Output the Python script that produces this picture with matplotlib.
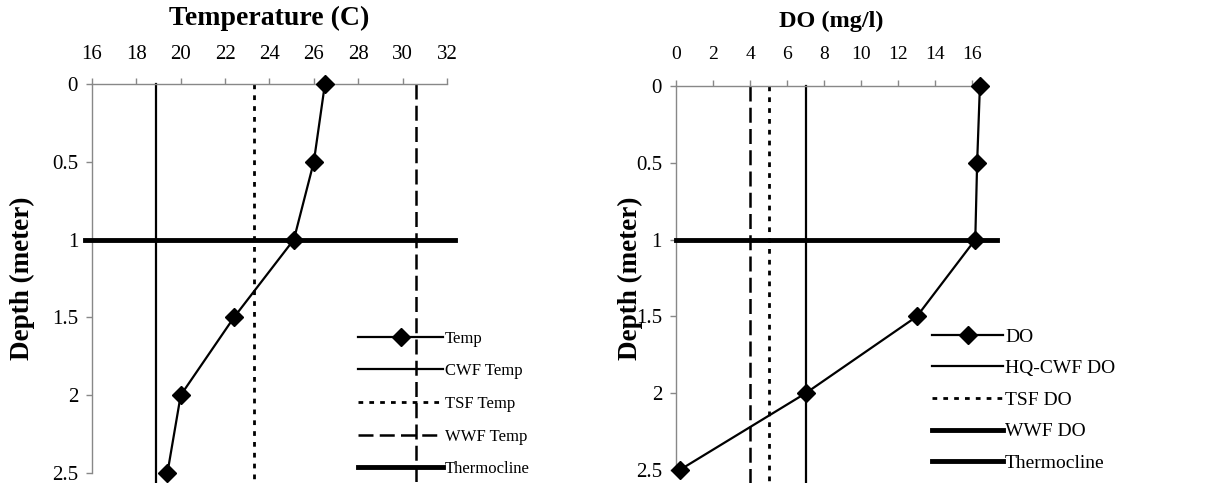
import matplotlib
matplotlib.use('Agg')
from matplotlib import pyplot as plt
from matplotlib.lines import Line2D

plt.rcParams['font.family'] = ['Liberation Serif', 'DejaVu Serif']

depth = [0, 0.5, 1, 1.5, 2, 2.5]
temp = [26.5, 26.0, 25.1, 22.4, 20.0, 19.4]
do = [16.4, 16.25, 16.15, 13.0, 7.0, 0.2]

cwf_temp = 18.9
tsf_temp = 23.3
wwf_temp = 30.6
hq_cwf_do = 7
tsf_do = 5
wwf_do = 4
thermocline = 1

temp_ticks = [16, 18, 20, 22, 24, 26, 28, 30, 32]
do_ticks = [0, 2, 4, 6, 8, 10, 12, 14, 16]
depth_ticks = [0, 0.5, 1, 1.5, 2, 2.5]
depth_labels = ['0', '0.5', '1', '1.5', '2', '2.5']

fig = plt.figure(figsize=(12.07, 4.83), dpi=100)
ax1 = fig.add_axes([0.0762, 0.0207, 0.2941, 0.8054])
ax2 = fig.add_axes([0.560, 0.0269, 0.258, 0.795])

dot = (0, (1.7, 2.2))
dash = (0, (6, 2.5))


def style(ax, xlabel, ticks, xlim, tsize, xtsize, ytsize, ylab_x, title_pad, xpad):
    ax.set_xlim(*xlim)
    ax.set_ylim(2.5, 0)
    ax.set_xticks(ticks)
    ax.set_yticks(depth_ticks)
    ax.set_yticklabels(depth_labels)
    ax.xaxis.tick_top()
    ax.xaxis.set_label_position('top')
    ax.set_xlabel(xlabel, fontsize=tsize, fontweight='bold', labelpad=title_pad)
    ax.set_ylabel('Depth (meter)', fontsize=19.5, fontweight='bold')
    ax.yaxis.set_label_coords(ylab_x, 0.5)
    for s in ['bottom', 'right']:
        ax.spines[s].set_visible(False)
    for s in ['top', 'left']:
        ax.spines[s].set_color('#888888')
        ax.spines[s].set_linewidth(1.0)
    ax.tick_params(axis='both', direction='out', length=4, width=1,
                   color='#888888')
    ax.tick_params(axis='x', labelsize=xtsize, pad=xpad)
    ax.tick_params(axis='y', labelsize=ytsize, pad=6)


# temperature profile
ax1.plot(temp, depth, color='black', lw=1.6, marker='D', ms=9,
         clip_on=False, zorder=5)
ax1.plot([cwf_temp, cwf_temp], [0, 2.6], color='black', lw=1.6, clip_on=False)
ax1.plot([tsf_temp, tsf_temp], [0, 2.6], color='black', lw=2.0,
         linestyle=dot, clip_on=False)
ax1.plot([wwf_temp, wwf_temp], [0, 2.6], color='black', lw=1.8,
         linestyle=dash, clip_on=False)
ax1.plot([15.7, 32.36], [thermocline, thermocline], color='black', lw=3.5,
         clip_on=False, zorder=4)
style(ax1, 'Temperature (C)', temp_ticks, (16, 32), 20, 15, 15, -0.16, 14, 10.5)

h1 = [Line2D([], [], color='black', lw=1.6, marker='D', ms=9),
      Line2D([], [], color='black', lw=1.6),
      Line2D([], [], color='black', lw=2.0, linestyle=dot),
      Line2D([], [], color='black', lw=1.8, linestyle=dash),
      Line2D([], [], color='black', lw=3.5)]
fig.legend(h1, ['Temp', 'CWF Temp', 'TSF Temp', 'WWF Temp', 'Thermocline'],
           loc='upper left', bbox_to_anchor=(358 / 1207, 0.3157),
           frameon=False, fontsize=12, handlelength=5.1, handletextpad=0.1,
           labelspacing=1.0, borderpad=0, borderaxespad=0)

# DO profile
ax2.plot(do, depth, color='black', lw=1.6, marker='D', ms=9,
         clip_on=False, zorder=5)
ax2.plot([hq_cwf_do, hq_cwf_do], [0, 2.6], color='black', lw=1.6,
         clip_on=False)
ax2.plot([tsf_do, tsf_do], [0, 2.6], color='black', lw=2.0, linestyle=dot,
         clip_on=False)
ax2.plot([wwf_do, wwf_do], [0, 2.6], color='black', lw=1.8, linestyle=dash,
         clip_on=False)
ax2.plot([0, 17.3], [thermocline, thermocline], color='black', lw=3.5,
         clip_on=False, zorder=4)
style(ax2, 'DO (mg/l)', do_ticks, (0, 16.8), 17.5, 14, 15, -0.105, 14, 12.5)

h2 = [Line2D([], [], color='black', lw=1.6, marker='D', ms=9),
      Line2D([], [], color='black', lw=1.6),
      Line2D([], [], color='black', lw=2.0, linestyle=dot),
      Line2D([], [], color='black', lw=3.5),
      Line2D([], [], color='black', lw=3.5)]
fig.legend(h2, ['DO', 'HQ-CWF DO', 'TSF DO', 'WWF DO', 'Thermocline'],
           loc='upper left', bbox_to_anchor=(932 / 1207, 0.3209),
           frameon=False, fontsize=14, handlelength=3.66, handletextpad=0.1,
           labelspacing=0.72, borderpad=0, borderaxespad=0)

fig.savefig('out.png', dpi=100)
